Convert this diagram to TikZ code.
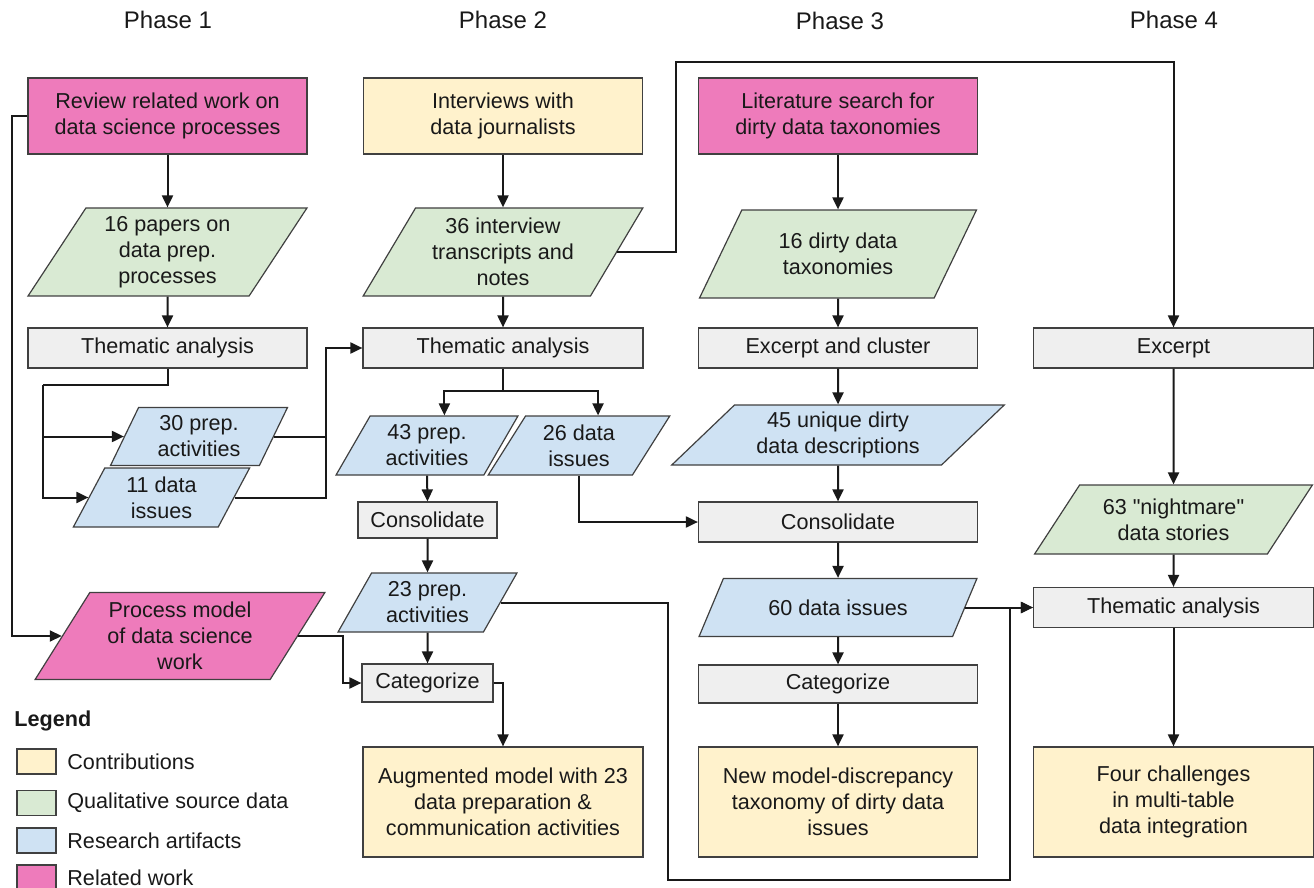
\documentclass[tikz,border=0pt]{standalone}
\usepackage{fontspec}
\setmainfont{Liberation Sans}
\usetikzlibrary{shapes.geometric}
\usetikzlibrary{arrows.meta}
\usetikzlibrary{calc}

\definecolor{cContrib}{HTML}{FFF2CC}
\definecolor{cSource}{HTML}{D9EAD3}
\definecolor{cArtifact}{HTML}{CFE2F3}
\definecolor{cRelated}{HTML}{EE7BBB}
\definecolor{cTask}{HTML}{EFEFEF}
\definecolor{cRim}{HTML}{404040}

\begin{document}
\begin{tikzpicture}[x=0.5pt,y=-0.5pt,>={Triangle[length=6pt,width=5.5pt]},
    every node/.style={font=\fontsize{10.8}{13}\selectfont,align=center,text=black!90},
    phase/.style={font=\fontsize{12}{14}\selectfont},
    box/.style={draw=cRim,line width=0.6pt,inner sep=1pt},
    head/.style={box,minimum width=139.5pt,minimum height=38pt},
    task/.style={box,fill=cTask,minimum width=139.5pt,minimum height=20pt},
    result/.style={box,fill=cContrib,minimum width=139.5pt,minimum height=55pt},
    data/.style={trapezium,trapezium stretches=true,draw=cRim,line width=0.6pt,inner sep=0pt},
    lean/.code={\pgfmathsetmacro\rightang{180-#1}%
        \pgfkeysalso{/pgf/trapezium left angle=#1,/pgf/trapezium right angle=\rightang}},
    swatch/.style={box,inner sep=0pt,minimum width=19.5pt,minimum height=12.5pt},
    key/.style={anchor=west,inner sep=0pt},
    link/.style={line width=1pt,draw=black!90}]
\useasboundingbox (0,0) rectangle (1314,888);

\node[phase] (ph1) at (168,20) {Phase 1};
\node[phase] (ph2) at (503,20) {Phase 2};
\node[phase] (ph3) at (840,21) {Phase 3};
\node[phase] (ph4) at (1174,20) {Phase 4};

% Phase 1
\node[head,fill=cRelated] (rev) at (167.5,116) {Review related work on\\data science processes};
\node[data,lean=58,fill=cSource,minimum width=139.5pt,minimum height=44pt] (pap) at (167.5,252) {16 papers on\\data prep.\\processes};
\node[task] (ta1) at (167.5,348) {Thematic analysis};
\node[data,lean=65,fill=cArtifact,minimum width=89pt,minimum height=29pt] (act1) at (199,436.5) {30 prep.\\activities};
\node[data,lean=65,fill=cArtifact,minimum width=88.5pt,minimum height=29.5pt] (iss1) at (161.5,497.5) {11 data\\issues};
\node[data,lean=57,fill=cRelated,minimum width=145pt,minimum height=43.5pt] (pm) at (180,636) {Process model\\of data science\\work};

% Phase 2
\node[head,fill=cContrib] (int) at (503,116) {Interviews with\\data journalists};
\node[data,lean=58,fill=cSource,minimum width=140pt,minimum height=44pt] (tra) at (503,252) {36 interview\\transcripts and\\notes};
\node[task,minimum width=140pt] (ta2) at (503,348) {Thematic analysis};
\node[data,lean=59,fill=cArtifact,minimum width=91pt,minimum height=29.5pt] (act2) at (427,445.5) {43 prep.\\activities};
\node[data,lean=59,fill=cArtifact,minimum width=91pt,minimum height=29.5pt] (iss2) at (579,445.5) {26 data\\issues};
\node[task,minimum width=69.5pt,minimum height=18pt] (con2) at (427.5,520) {Consolidate};
\node[data,lean=59,fill=cArtifact,minimum width=89.5pt,minimum height=29.5pt] (act3) at (427.5,602.5) {23 prep.\\activities};
\node[task,minimum width=65.5pt,minimum height=19pt] (cat2) at (427.5,683) {Categorize};
\node[result,minimum width=140pt] (aug) at (503,802) {Augmented model with 23\\data preparation \&\\communication activities};

% Phase 3
\node[head,fill=cRelated] (lit) at (838,116) {Literature search for\\dirty data taxonomies};
\node[data,lean=58,fill=cSource,minimum width=139.5pt,minimum height=44pt] (tax) at (838,254) {16 dirty data\\taxonomies};
\node[task] (exc) at (838,348) {Excerpt and cluster};
\node[data,lean=43,fill=cArtifact,minimum width=166.5pt,minimum height=30pt] (des) at (838,435) {45 unique dirty\\data descriptions};
\node[task] (con3) at (838,522) {Consolidate};
\node[data,lean=47,fill=cArtifact,minimum width=139.5pt,minimum height=29pt] (iss3) at (838,607.5) {60 data issues};
\node[task,minimum height=19pt] (cat3) at (838,684) {Categorize};
\node[result] (new) at (838,802) {New model-discrepancy\\taxonomy of dirty data\\issues};

% Phase 4
\node[task,minimum width=140pt] (exc4) at (1173.5,348) {Excerpt};
\node[data,lean=51,fill=cSource,minimum width=139pt,minimum height=34.5pt] (sto) at (1173.5,519.5) {63 \textquotedbl nightmare\textquotedbl\\data stories};
\node[task,minimum width=140pt] (ta4) at (1173.5,607.5) {Thematic analysis};
\node[result,minimum width=140pt] (chal) at (1173.5,802) {Four challenges\\in multi-table\\data integration};

% connectors
\coordinate (j1) at (43,385);
\coordinate (j2) at (326,348);
\coordinate (b2) at (503,391);
\coordinate (top1) at (676,62);
\coordinate (low1) at (668,880);
\coordinate (low2) at (1010,880);

\draw[link,->] (rev) -- (pap);
\draw[link,->] (pap) -- (ta1);
\draw[link] (ta1.south) |- (j1);
\draw[link,->] (j1) |- (act1.left side);
\draw[link,->] (j1) |- (iss1.left side);
\draw[link] (act1.right side) -- (act1.right side -| j2);
\draw[link,->] (iss1.right side) -| (j2) -- (ta2.west);
\draw[link,->] (rev.west) -- ++(-15,0) |- (pm.left side);
\draw[link,->] (pm.right side) -| ($(cat2.west)+(-18,0)$) -- (cat2.west);

\draw[link,->] (int) -- (tra);
\draw[link,->] (tra) -- (ta2);
\draw[link] (ta2.south) -- (b2);
\draw[link,->] (b2) -| (act2.top side);
\draw[link,->] (b2) -| (iss2.top side);
\draw[link,->] (act2.south) -- (con2.north);
\draw[link,->] (con2) -- (act3);
\draw[link,->] (act3.south) -- (cat2.north);
\draw[link,->] (cat2.east) -| (aug.north);
\draw[link,->] (iss2.south) |- (con3.west);
\draw[link,->] (tra.right side) -| (top1) -| (exc4.north);
\draw[link,->] (act3.right side) -| (low1) -- (low2) |- (ta4.west);

\draw[link,->] (lit) -- (tax);
\draw[link,->] (tax) -- (exc);
\draw[link,->] (exc) -- (des);
\draw[link,->] (des) -- (con3);
\draw[link,->] (con3) -- (iss3);
\draw[link,->] (iss3) -- (cat3);
\draw[link,->] (cat3) -- (new);
\draw[link,->] (iss3.right side) -- (ta4.west);

\draw[link,->] (exc4) -- (sto);
\draw[link,->] (sto) -- (ta4);
\draw[link,->] (ta4) -- (chal);

% legend
\node[key,font=\fontsize{10.8}{13}\selectfont\bfseries] (leg) at (14,721) {Legend};
\node[swatch,fill=cContrib] (k1) at (36.5,761.5) {};
\node[swatch,fill=cSource] (k2) at (36.5,803) {};
\node[swatch,fill=cArtifact] (k3) at (36.5,840.5) {};
\node[swatch,fill=cRelated] (k4) at (36.5,877.5) {};
\node[key] (k1t) at (67,761.5) {Contributions};
\node[key] (k2t) at (67,803) {Qualitative source data};
\node[key] (k3t) at (67,840.5) {Research artifacts};
\node[key] (k4t) at (67,877.5) {Related work};
\end{tikzpicture}
\end{document}
